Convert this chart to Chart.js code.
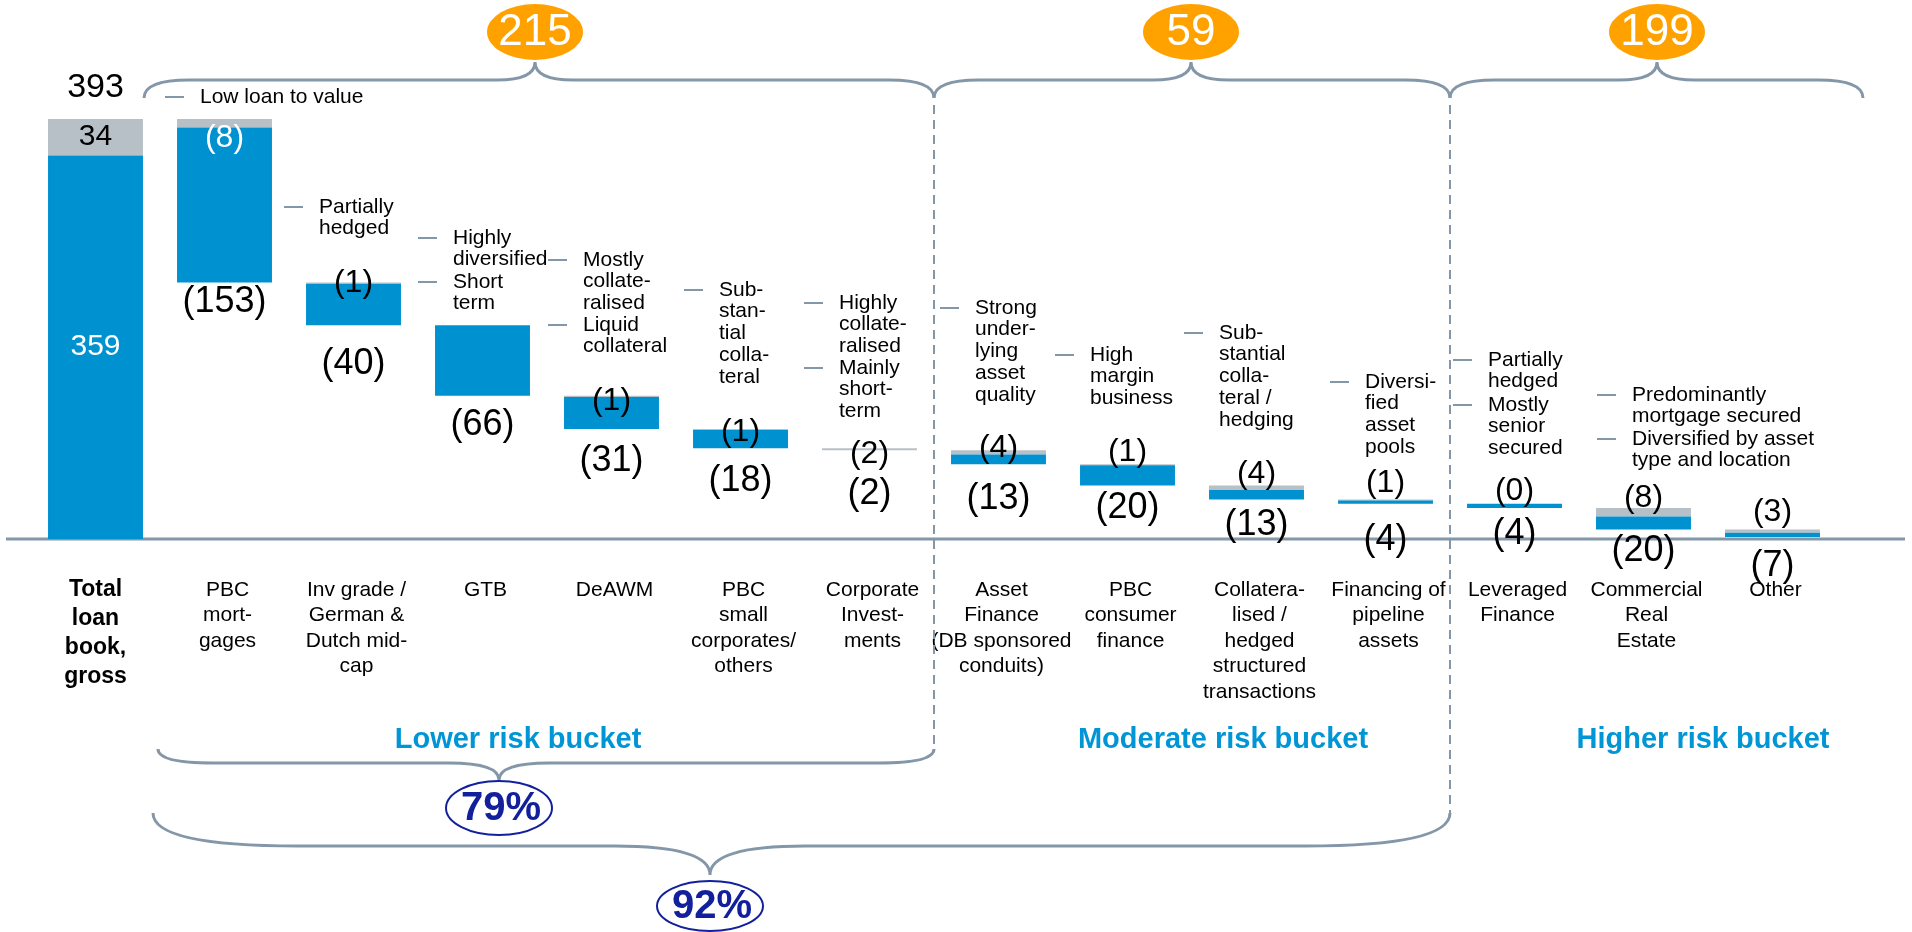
<!DOCTYPE html>
<html>
<head>
<meta charset="utf-8">
<title>Loan book by risk bucket</title>
<script src="https://cdn.jsdelivr.net/npm/chart.js@4/dist/chart.umd.min.js"></script>
<style>
  html, body { margin: 0; padding: 0; background: #fff; }
  canvas { display: block; }
</style>
</head>
<body>
<canvas id="loanChart" width="1912" height="932"></canvas>
<script>
// categories, one line of the label per entry
const categories = [
    ['Total', 'loan', 'book,', 'gross'],
    ['PBC', 'mort-', 'gages'],
    ['Inv grade /', 'German &', 'Dutch mid-', 'cap'],
    ['GTB'],
    ['DeAWM'],
    ['PBC', 'small', 'corporates/', 'others'],
    ['Corporate', 'Invest-', 'ments'],
    ['Asset', 'Finance', '(DB sponsored', 'conduits)'],
    ['PBC', 'consumer', 'finance'],
    ['Collatera-', 'lised /', 'hedged', 'structured', 'transactions'],
    ['Financing of', 'pipeline', 'assets'],
    ['Leveraged', 'Finance'],
    ['Commercial', 'Real', 'Estate'],
    ['Other']
];

// total loan book, gross
const bookBlue = 359;
const bookGray = 34;

// each step: full drop and the grey part of it
const stepTotals = [153, 40, 66, 31, 18, 2, 13, 20, 13, 4, 4, 20, 7];
const stepGray   = [8, 1, 0, 1, 1, 2, 4, 1, 4, 1, 0, 8, 3];
const grayShown  = [true, true, false, true, true, true, true, true, true, true, true, true, true];

const buckets = ['Lower risk bucket', 'Moderate risk bucket', 'Higher risk bucket'];
const bucketBadges = [215, 59, 199];
const bucketShares = ['79%', '92%'];

// ---- build the floating ranges
const bookTotal = bookBlue + bookGray;
const blueRanges = [[0, bookBlue]];
const grayRanges = [[bookBlue, bookTotal]];
let level = bookTotal;
stepTotals.forEach((t, i) => {
    const g = stepGray[i];
    grayRanges.push([level - g, level]);
    blueRanges.push([level - t, level - g]);
    level -= t;
});

const FONT = "'Liberation Sans', Arial, sans-serif";
const BLUE = '#0091D0';
const GRAY = '#B8C0C7';
const LINE = '#8497A9';
const TEAL = '#0096D6';
const NAVY = '#12209C';
const ORANGE = '#FFA200';

// label offsets in px from the bar edge (above: up from top, below: down from bottom)
const gapAbove = [-19, -1, 0, -5, -3, -6, 2, 12, 11, 16, 13, 10, 17];
const gapBelow = [20, 39, 29, 32, 33, 44, 35, 22, 26, 36, 26, 22, 29];

// side notes: dash start x, first line y, lines
const notes = [
    { x: 165, y: 97, lines: ['Low loan to value'] },
    { x: 284, y: 207, lines: ['Partially', 'hedged'] },
    { x: 418, y: 238, lines: ['Highly', 'diversified'] },
    { x: 418, y: 282, lines: ['Short', 'term'] },
    { x: 548, y: 260, lines: ['Mostly', 'collate-', 'ralised'] },
    { x: 548, y: 325, lines: ['Liquid', 'collateral'] },
    { x: 684, y: 290, lines: ['Sub-', 'stan-', 'tial', 'colla-', 'teral'] },
    { x: 804, y: 303, lines: ['Highly', 'collate-', 'ralised'] },
    { x: 804, y: 368, lines: ['Mainly', 'short-', 'term'] },
    { x: 940, y: 308, lines: ['Strong', 'under-', 'lying', 'asset', 'quality'] },
    { x: 1055, y: 355, lines: ['High', 'margin', 'business'] },
    { x: 1184, y: 333, lines: ['Sub-', 'stantial', 'colla-', 'teral /', 'hedging'] },
    { x: 1330, y: 382, lines: ['Diversi-', 'fied', 'asset', 'pools'] },
    { x: 1453, y: 360, lines: ['Partially', 'hedged'] },
    { x: 1453, y: 405, lines: ['Mostly', 'senior', 'secured'] },
    { x: 1597, y: 395, lines: ['Predominantly', 'mortgage secured'] },
    { x: 1597, y: 439, lines: ['Diversified by asset', 'type and location'] }
];

function text(ctx, str, x, y, size, opts = {}) {
    ctx.font = (opts.bold ? 'bold ' : '') + size + 'px ' + FONT;
    ctx.fillStyle = opts.color || '#000';
    ctx.textAlign = opts.align || 'center';
    ctx.textBaseline = 'middle';
    ctx.fillText(str, x, y);
}

function brace(ctx, b) {
    ctx.beginPath();
    ctx.moveTo(b.x1, b.yEnd);
    ctx.quadraticCurveTo(b.x1, b.yLine, b.x1 + b.cEnd, b.yLine);
    ctx.lineTo(b.xt - b.cTip, b.yLine);
    ctx.quadraticCurveTo(b.xt, b.yLine, b.xt, b.yTip);
    ctx.quadraticCurveTo(b.xt, b.yLine, b.xt + b.cTip, b.yLine);
    ctx.lineTo(b.x2 - b.cEnd, b.yLine);
    ctx.quadraticCurveTo(b.x2, b.yLine, b.x2, b.yEnd);
    ctx.stroke();
}

function ellipse(ctx, cx, cy, rx, ry) {
    ctx.beginPath();
    ctx.ellipse(cx, cy, rx, ry, 0, 0, Math.PI * 2);
}

const decorations = {
    id: 'decorations',
    beforeDatasetsDraw(chart) {
        const ctx = chart.ctx;
        const y0 = chart.scales.y.getPixelForValue(0);
        ctx.save();
        ctx.strokeStyle = LINE;
        ctx.lineWidth = 3;
        ctx.beginPath();
        ctx.moveTo(6, y0);
        ctx.lineTo(1905, y0);
        ctx.stroke();
        ctx.restore();
    },
    afterDatasetsDraw(chart) {
        const ctx = chart.ctx;
        const xs = chart.scales.x;
        const ys = chart.scales.y;
        const px = i => xs.getPixelForValue(i);
        const py = v => ys.getPixelForValue(v);
        ctx.save();

        // total bar labels
        text(ctx, String(bookTotal), px(0), py(bookTotal) - 31, 34);
        text(ctx, String(bookGray), px(0), (py(bookTotal) + py(bookBlue)) / 2, 30);
        text(ctx, String(bookBlue), px(0), (py(bookBlue) + py(0)) / 2, 30, { color: '#fff' });

        // step labels
        stepTotals.forEach((t, i) => {
            const x = px(i + 1);
            const top = py(grayRanges[i + 1][1]);
            const bottom = py(blueRanges[i + 1][0]);
            if (grayShown[i]) {
                text(ctx, '(' + stepGray[i] + ')', x, top - gapAbove[i], 32,
                    { color: i === 0 ? '#fff' : '#000' });
            }
            text(ctx, '(' + t + ')', x, bottom + gapBelow[i], 36);
        });

        // category labels
        categories.forEach((lines, i) => {
            const bold = i === 0;
            const lh = bold ? 29 : 25.5;
            lines.forEach((ln, k) => {
                text(ctx, ln, px(i) + (bold ? 0 : 3), 590 + k * lh, bold ? 23 : 21, { bold });
            });
        });

        // side notes
        ctx.strokeStyle = LINE;
        ctx.lineWidth = 2;
        notes.forEach(n => {
            ctx.beginPath();
            ctx.moveTo(n.x, n.y);
            ctx.lineTo(n.x + 19, n.y);
            ctx.stroke();
            n.lines.forEach((ln, k) => {
                text(ctx, ln, n.x + 35, n.y + k * 21.7, 21, { align: 'left' });
            });
        });

        // bucket separators
        const sep1 = (px(6) + px(7)) / 2;
        const sep2 = (px(10) + px(11)) / 2;
        ctx.setLineDash([9, 6]);
        ctx.beginPath();
        ctx.moveTo(sep1, 105);
        ctx.lineTo(sep1, 749);
        ctx.moveTo(sep2, 105);
        ctx.lineTo(sep2, 813);
        ctx.stroke();
        ctx.setLineDash([]);

        // braces over the buckets with their badges
        ctx.lineWidth = 3;
        const top = [
            { x1: 144, x2: sep1, xt: 535 },
            { x1: sep1, x2: sep2, xt: 1191 },
            { x1: sep2, x2: 1863, xt: 1657 }
        ];
        top.forEach((b, i) => {
            brace(ctx, Object.assign({ yEnd: 98, yLine: 80, yTip: 62, cEnd: 45, cTip: 38 }, b));
            ellipse(ctx, b.xt, 32, 48, 28);
            ctx.fillStyle = ORANGE;
            ctx.fill();
            text(ctx, String(bucketBadges[i]), b.xt, 33, 44, { color: '#fff' });
        });

        // bucket names
        [518, 1223, 1703].forEach((x, i) => {
            text(ctx, buckets[i], x, 740, 29, { bold: true, color: TEAL });
        });

        // share braces underneath
        const low = [
            { x1: 158, x2: sep1, xt: 499, yEnd: 749, yLine: 763, yTip: 780, cEnd: 55, cTip: 50, cy: 808, ry: 27 },
            { x1: 153, x2: sep2, xt: 710, yEnd: 813, yLine: 846, yTip: 875, cEnd: 145, cTip: 95, cy: 906, ry: 25 }
        ];
        low.forEach((b, i) => {
            ctx.strokeStyle = LINE;
            ctx.lineWidth = 3;
            brace(ctx, b);
            ellipse(ctx, b.xt, b.cy, 53, b.ry);
            ctx.fillStyle = '#fff';
            ctx.fill();
            ctx.strokeStyle = NAVY;
            ctx.lineWidth = 2;
            ctx.stroke();
            text(ctx, bucketShares[i], b.xt + 2, b.cy + 1, 40, { bold: true, color: NAVY });
        });

        ctx.restore();
    }
};

new Chart(document.getElementById('loanChart'), {
    type: 'bar',
    data: {
        labels: categories,
        datasets: [
            { label: 'Blue', data: blueRanges, backgroundColor: BLUE, grouped: false, borderWidth: 0 },
            { label: 'Grey', data: grayRanges, backgroundColor: GRAY, grouped: false, borderWidth: 0 }
        ]
    },
    options: {
        responsive: false,
        animation: false,
        layout: { padding: { left: 31, right: 75, top: 0, bottom: 0 } },
        datasets: { bar: { categoryPercentage: 1, barPercentage: 0.736 } },
        plugins: { legend: { display: false }, tooltip: { enabled: false } },
        scales: {
            x: { display: false },
            y: { display: false, min: -367.7, max: 504.4 }
        }
    },
    plugins: [decorations]
});
</script>
</body>
</html>
